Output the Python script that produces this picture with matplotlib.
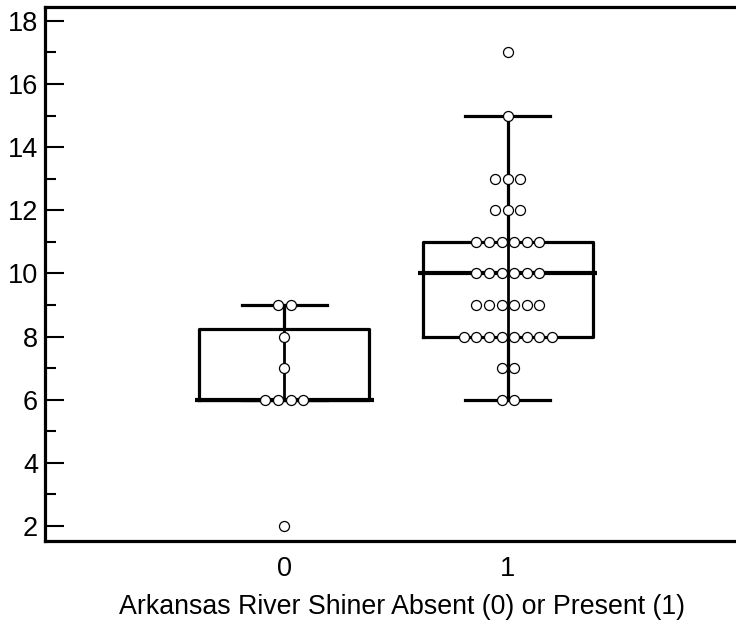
import numpy as np
import matplotlib.pyplot as plt
from matplotlib.cbook import boxplot_stats

plt.rcParams['font.family'] = ['Liberation Sans', 'DejaVu Sans']

# values: (value, count)
groups = ['0', '1']
absent_vals = [2, 6, 7, 8, 9]
absent_counts = [1, 4, 1, 1, 2]
present_vals = [6, 7, 8, 9, 10, 11, 12, 13, 15, 17]
present_counts = [2, 2, 8, 6, 6, 6, 3, 3, 1, 1]

data = [np.repeat(absent_vals, absent_counts),
        np.repeat(present_vals, present_counts)]

fig = plt.figure(figsize=(7.36, 6.22), dpi=100)
ax = fig.add_axes([0.0611, 0.130, 0.9389, 0.8587])

pos = [0, 1]
stats = []
for d in data:
    s = boxplot_stats(d)[0]
    # hinges in the original look like Hazen quartiles
    s['q1'], s['q3'] = np.percentile(d, [25, 75], method='hazen')
    iqr = s['q3'] - s['q1']
    s['whislo'] = d[d >= s['q1'] - 1.5 * iqr].min()
    s['whishi'] = d[d <= s['q3'] + 1.5 * iqr].max()
    stats.append(s)

ax.bxp(stats, positions=pos, widths=0.76, showfliers=False,
       capwidths=0.38,
       boxprops=dict(lw=2.3, color='black'),
       whiskerprops=dict(lw=2.3, color='black'),
       capprops=dict(lw=2.3, color='black'),
       medianprops=dict(lw=0))

for p, s in zip(pos, stats):
    ax.vlines(p, s['whislo'], s['whishi'], color='black', lw=2, zorder=2)
    ax.hlines(s['med'], p - 0.40, p + 0.40, color='black', lw=3, zorder=2)

# dot columns spread sideways like a beeswarm
step = 0.0563
for p, vals, counts in [(0, absent_vals, absent_counts), (1, present_vals, present_counts)]:
    for v, n in zip(vals, counts):
        xs = p + (np.arange(n) - (n - 1) / 2) * step
        ax.plot(xs, [v] * n, 'o', ms=7.2, mfc='white', mec='black',
                mew=0.9, zorder=3, clip_on=False)

ax.set_xlim(-1.07, 2.02)
ax.set_ylim(1.52, 18.44)
ax.set_xticks(pos)
ax.set_xticklabels(groups)
ax.set_yticks(range(2, 19, 2))
ax.set_yticks(range(3, 18, 2), minor=True)
ax.tick_params(axis='y', which='major', direction='in', length=14, width=1.5,
               labelsize=19.5, pad=5)
ax.tick_params(axis='y', which='minor', direction='in', length=8, width=1.5)
ax.tick_params(axis='x', length=0, labelsize=19.5, pad=11)
ax.set_xlabel('Arkansas River Shiner Absent (0) or Present (1)', fontsize=19.3, labelpad=8)
ax.xaxis.label.set_x(0.516)

ax.spines['right'].set_visible(False)
for sp in ['left', 'bottom', 'top']:
    ax.spines[sp].set_linewidth(2.3)

fig.savefig('out.png', dpi=100)
